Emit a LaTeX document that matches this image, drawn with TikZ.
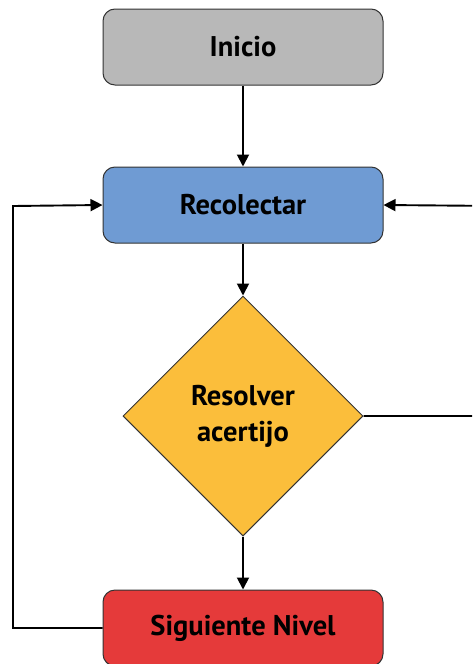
\documentclass[tikz,border=0pt]{standalone}
\usepackage{fontspec}
\setmainfont{PT Sans}
\usetikzlibrary{shapes.geometric,arrows.meta}

\definecolor{startgray}{RGB}{184,184,184}
\definecolor{stepblue}{RGB}{111,155,211}
\definecolor{askyellow}{RGB}{251,190,59}
\definecolor{endred}{RGB}{229,58,58}

\begin{document}
\begin{tikzpicture}[x=1pt, y=1pt, node distance=158pt,
	flow/.style={draw=black!80, line width=1pt, rounded corners=12pt, minimum width=280pt, minimum height=76pt, font=\bfseries\fontsize{28.5}{32}\selectfont},
	ask/.style={draw=black!80, line width=1pt, diamond, aspect=1, inner sep=0pt, minimum width=240pt, minimum height=240pt, align=center, font=\bfseries\fontsize{28.5}{36}\selectfont},
	link/.style={line width=1.9pt, -{Triangle[length=12pt,width=12pt]}}]
	\useasboundingbox (0,0) rectangle (472,-664);
	\clip (0,0) rectangle (472,-664);

	\node[flow, fill=startgray] (1) at (243,-47) {Inicio};
	\node[flow, fill=stepblue] (2) [below of=1] {Recolectar};
	\node[ask, fill=askyellow] (3) [below of=2, node distance=211pt] {Resolver\\acertijo};
	\node[flow, fill=endred] (4) [below of=3, node distance=212pt] {Siguiente Nivel};

	% loop corners, the right one lies past the edge
	\coordinate (l1) at (13,-628);
	\coordinate (l2) at (13,-206);
	\coordinate (r1) at (500,-416);
	\coordinate (r2) at (500,-206);

	\draw[link] (1) to (2);
	\draw[link] (2) to (3);
	\draw[link] (3) to (4);
	\draw[link] (4.west) -- (l1) -- (l2) -- (2.west);
	\draw[link] (3.east) -- (r1) -- (r2) -- (2.east);
\end{tikzpicture}
\end{document}
